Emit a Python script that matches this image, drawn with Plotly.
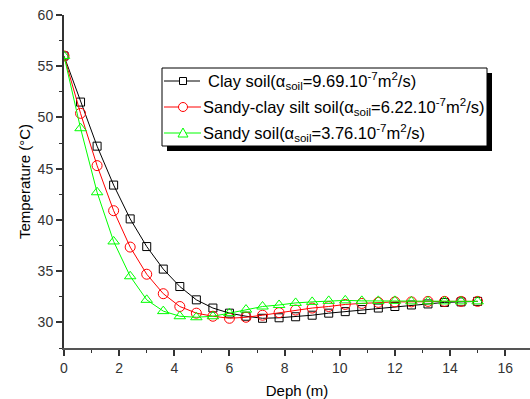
import plotly.graph_objects as go

depth = [0, 0.6, 1.2, 1.8, 2.4, 3.0, 3.6, 4.2, 4.8, 5.4, 6.0, 6.6, 7.2, 7.8, 8.4,
         9.0, 9.6, 10.2, 10.8, 11.4, 12.0, 12.6, 13.2, 13.8, 14.4, 15.0]
clay = [56.0, 51.5, 47.2, 43.4, 40.1, 37.4, 35.2, 33.5, 32.2, 31.4, 30.9, 30.6, 30.4,
        30.45, 30.55, 30.7, 30.9, 31.05, 31.25, 31.4, 31.55, 31.7, 31.8, 31.95, 32.0, 32.05]
sandy_clay = [56.0, 50.4, 45.3, 40.9, 37.35, 34.7, 32.8, 31.55, 30.9, 30.6, 30.4, 30.5,
              30.7, 30.95, 31.2, 31.4, 31.55, 31.75, 31.85, 31.95, 32.0, 32.0, 32.05,
              32.05, 32.05, 32.05]
sandy = [56.0, 48.95, 42.7, 37.9, 34.5, 32.2, 31.1, 30.6, 30.5, 30.6, 30.9, 31.25, 31.55,
         31.7, 31.9, 32.0, 32.1, 32.15, 32.1, 32.1, 32.1, 32.05, 32.05, 32.05, 32.05, 32.05]

names = [
    "Clay soil(α<sub>soil</sub>=9.69.10<sup>-7</sup>m<sup>2</sup>/s)",
    "Sandy-clay silt soil(α<sub>soil</sub>=6.22.10<sup>-7</sup>m<sup>2</sup>/s)",
    "Sandy soil(α<sub>soil</sub>=3.76.10<sup>-7</sup>m<sup>2</sup>/s)",
]
colors = ["#000000", "#FF0000", "#00FF00"]
x_ticks = [0, 2, 4, 6, 8, 10, 12, 14, 16]
y_ticks = [30, 35, 40, 45, 50, 55, 60]

W, H = 530, 399
ML, MR, MT, MB = 64, 0, 15, 51
PW, PH = W - ML - MR, H - MT - MB


def px(p):
    return (p - ML) / PW


def py(p):
    return (H - MB - p) / PH


fig = go.Figure()
fig.add_trace(go.Scatter(x=depth, y=clay, name=names[0], mode="lines+markers",
                         line=dict(color=colors[0], width=1),
                         marker=dict(symbol="square-open", size=8, color=colors[0], line=dict(width=1))))
fig.add_trace(go.Scatter(x=depth, y=sandy_clay, name=names[1], mode="lines+markers",
                         line=dict(color=colors[1], width=1),
                         marker=dict(symbol="circle-open", size=10, color=colors[1], line=dict(width=1))))
fig.add_trace(go.Scatter(x=depth, y=sandy, name=names[2], mode="lines+markers",
                         line=dict(color=colors[2], width=1),
                         marker=dict(symbol="triangle-up-open", size=10, color=colors[2], line=dict(width=1))))

xr = [0, 16.9]
yr = [27.5, 60]
tickfont = dict(family="Liberation Sans, Arial", size=14, color="#333333")

fig.update_layout(
    width=W, height=H,
    margin=dict(l=ML, r=MR, t=MT, b=MB, autoexpand=False),
    plot_bgcolor="white", paper_bgcolor="white",
    font=dict(family="Liberation Sans, Arial", color="#000000"),
    showlegend=False,
    xaxis=dict(range=xr, tickvals=x_ticks, ticks="outside", ticklen=6, tickwidth=1.5,
               tickcolor="#333333", showline=True, linecolor="#555555", linewidth=2,
               showgrid=False, zeroline=False, tickfont=tickfont, automargin=False,
               minor=dict(dtick=1, tick0=0, ticks="outside", ticklen=3, tickwidth=1, tickcolor="#333333"),
               title=dict(text="Deph (m)", font=dict(size=15, color="#000000"), standoff=12)),
    yaxis=dict(range=yr, tickvals=y_ticks, ticks="outside", ticklen=6, tickwidth=1.5,
               tickcolor="#333333", showline=True, linecolor="#333333", linewidth=2,
               showgrid=False, zeroline=False, tickfont=tickfont, automargin=False,
               minor=dict(dtick=5, tick0=27.5, ticks="outside", ticklen=3, tickwidth=1, tickcolor="#333333"),
               title=dict(text="Temperature (°C)", font=dict(size=15, color="#000000"), standoff=3)),
    xaxis2=dict(range=xr, overlaying="x", side="top", anchor="y", automargin=False,
                tickvals=[1, 3, 5, 7, 9, 11, 13, 15], ticks="inside", ticklen=5, tickwidth=1,
                tickcolor="#333333", showticklabels=False, showline=True, linecolor="#000000",
                linewidth=1.5, showgrid=False, zeroline=False),
    yaxis2=dict(range=yr, overlaying="y", side="right", anchor="x", automargin=False,
                tickvals=[27.5, 32.5, 37.5, 42.5, 47.5, 52.5, 57.5], ticks="inside", ticklen=4,
                tickwidth=1, tickcolor="#999999", showticklabels=False, showline=False,
                showgrid=False, zeroline=False),
)

# ---- manual legend (box with drop shadow) ----
box_l, box_r, box_t, box_b = 162, 487, 68, 146
fig.add_shape(type="rect", xref="paper", yref="paper",
              x0=px(box_l + 5), x1=px(box_r + 5), y0=py(box_b + 5), y1=py(box_t + 5),
              fillcolor="#000000", line=dict(width=0), layer="above")
fig.add_shape(type="rect", xref="paper", yref="paper",
              x0=px(box_l), x1=px(box_r), y0=py(box_b), y1=py(box_t),
              fillcolor="#FFFFFF", line=dict(width=1, color="#000000"), layer="above")

row_y = [81, 107, 133]
text_x = [206, 201, 201]
line_end = [200, 201, 201]
mx = 183
for i in range(3):
    yy = row_y[i]
    c = colors[i]
    fig.add_shape(type="line", xref="paper", yref="paper",
                  x0=px(164), x1=px(line_end[i]), y0=py(yy), y1=py(yy),
                  line=dict(color=c, width=1), layer="above")
    if i == 0:
        fig.add_shape(type="rect", xref="paper", yref="paper",
                      x0=px(mx - 3.5), x1=px(mx + 3.5), y0=py(yy + 3.5), y1=py(yy - 3.5),
                      fillcolor="#FFFFFF", line=dict(color=c, width=1), layer="above")
    elif i == 1:
        fig.add_shape(type="circle", xref="paper", yref="paper",
                      x0=px(mx - 4.5), x1=px(mx + 4.5), y0=py(yy + 4.5), y1=py(yy - 4.5),
                      fillcolor="#FFFFFF", line=dict(color=c, width=1), layer="above")
    else:
        path = "M {:.5f},{:.5f} L {:.5f},{:.5f} L {:.5f},{:.5f} Z".format(
            px(mx), py(yy - 5), px(mx - 5), py(yy + 4), px(mx + 5), py(yy + 4))
        fig.add_shape(type="path", xref="paper", yref="paper", path=path,
                      fillcolor="#FFFFFF", line=dict(color=c, width=1), layer="above")
    fig.add_annotation(xref="paper", yref="paper", x=px(text_x[i]), y=py(yy),
                       xanchor="left", yanchor="middle", showarrow=False,
                       text=names[i], align="left",
                       font=dict(family="Liberation Sans, Arial", size=16.5, color="#000000"))

fig.write_html("out.html", config={"displayModeBar": False},
               post_script="document.body.style.margin='0';")
